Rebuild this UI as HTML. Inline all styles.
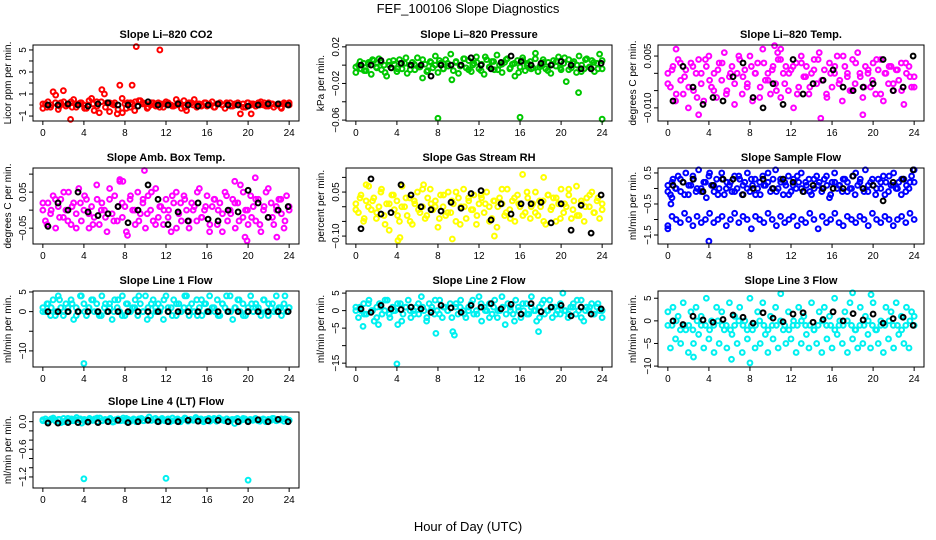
<!DOCTYPE html>
<html><head><meta charset="utf-8">
<style>
html,body{margin:0;padding:0;background:#fff;}
svg{display:block;font-family:"Liberation Sans",sans-serif;}
</style></head>
<body>
<svg id="chart" width="936" height="540" viewBox="0 0 936 540" xmlns="http://www.w3.org/2000/svg">
<rect width="936" height="540" fill="#fff"/>
<text x="468" y="13" text-anchor="middle" font-size="13">FEF_100106  Slope Diagnostics</text>
<text x="468" y="531" text-anchor="middle" font-size="13">Hour of Day (UTC)</text>
</svg>
<script>
// ---- data arrays ----
const xTicks = [0,4,8,12,16,20,24];

const co2Vals = [-0.3,0.1,0.3,-0.2,1.2,0.9,-0.4,0.2,1.3,-0.1,0.1,0.3,0.5,-0.2,0.1,0.2,0.0,-0.3,0.4,0.6,-0.5,0.3,-0.7,1.4,1.0,0.2,-0.6,0.1,0.2,-0.8,1.8,-0.7,0.1,0.2,-0.2,0.1,0.3,-0.1,0.4,0.2,0.1,-0.2,0.0,0.2,-0.1,0.2,0.1,-0.2,0.3,0.1,0.0,-0.1,0.5,0.2,-0.3,0.4,-0.5,0.1,0.2,0.5,-0.2,0.1,0.0,0.2,-0.1,0.1,0.3,-0.2,0.1,0.2,0.0,-0.3,0.1,0.2,-0.1,0.0,0.2,-0.8,0.1,-0.2,0.2,0.0,0.1,-0.1,0.2,0.3,0.0,-0.1,0.2,0.1,-0.2,0.0,0.1,-0.3,0.2,0.1,0.0];
const co2Vals2 = [0.1,-0.2,0.0,0.2,-0.1,0.3,0.0,-0.2,0.1,0.2,-0.3,0.0,0.1,-0.1,0.3,-0.2,0.2,0.0,-0.4,0.6,-0.3,0.2,-0.5,0.4,0.1,-0.3,0.2,0.0,-0.2,0.1,0.2,-0.1,0.0,0.1,-0.2,0.2,0.0,0.1,-0.1,0.2,0.0,-0.2,0.1,0.0,0.2,-0.1,0.1,0.0,-0.2,0.2,0.1,-0.1,0.0,0.2,-0.1,0.1,0.0,-0.2,0.1,0.2];
const co2OutHours = [2.7,9.1,11.4,8.7,20.3];
const co2OutVals = [-1.3,5.3,5.0,1.8,-0.8];
const co2Black = [0.0,0.0,0.1,0.0,-0.1,0.1,0.2,0.0,0.0,-0.1,0.3,0.0,0.0,0.1,0.0,-0.1,0.0,0.1,0.0,0.0,-0.1,0.0,0.1,0.1,0.0];

const presVals = [-0.008,0.000,-0.004,0.002,-0.006,0.003,-0.010,0.005,-0.002,0.007,-0.005,0.000,-0.012,0.004,-0.003,0.001,-0.007,0.006,-0.004,0.002,-0.009,0.000,0.003,-0.005,0.008,-0.002,-0.014,0.001,-0.006,0.004,-0.003,0.010,-0.008,0.002,-0.004,0.006,-0.001,0.012,-0.006,0.003,-0.009,0.000,0.007,-0.003,0.005,-0.007,0.002,0.009,-0.004,0.001,-0.010,0.006,-0.002,0.004,-0.005,0.011,0.000,-0.008,0.003,0.007,-0.004,0.001,-0.012,0.005,-0.002,0.008,-0.006,0.002,0.004,-0.003,0.013,-0.007,0.000,0.006,-0.004,0.003,-0.009,0.005,-0.001,0.009,-0.005,0.002,-0.018,0.006,-0.003,0.004,-0.008,0.010,0.000,-0.004,0.007,-0.002,0.005,-0.007,0.002,0.012,-0.004];
const presVals2 = [-0.002,0.004,-0.006,0.001,0.006,-0.003,0.003,-0.008,0.000,0.005,-0.004,0.002,0.008,-0.005,0.001,-0.002,0.006,-0.007,0.003,0.000,0.005,-0.004,0.002,-0.016,0.004,-0.001,0.007,-0.005,0.000,0.003,-0.006,0.009,-0.002,0.004,-0.005,0.001,0.006,-0.003,0.002,-0.008,0.005,0.000,-0.004,0.007,-0.002,0.003,-0.006,0.001,0.004,-0.003,0.008,-0.005,0.002,0.000,-0.007,0.006,-0.002,0.003,-0.004,0.005];
const presOutHours = [8.0,16.0,24.0,21.7];
const presOutVals = [-0.058,-0.057,-0.059,-0.030];
const presBlack = [0.000,0.000,0.005,-0.003,0.002,0.000,0.000,-0.012,0.000,0.000,0.000,0.008,0.000,-0.004,0.003,0.010,0.004,0.000,0.002,0.000,0.004,0.000,-0.004,-0.004,0.002];

const tempVals = [0.000,-0.004,0.002,-0.008,0.004,-0.002,-0.006,0.001,-0.010,0.003,-0.005,0.000,0.004,-0.003,-0.008,0.002,0.005,-0.004,0.000,-0.007,0.003,-0.002,0.006,-0.005,-0.001,0.002,-0.009,0.000,0.004,-0.006,0.001,-0.003,0.005,-0.008,0.000,0.003,-0.004,0.007,-0.002,0.000,-0.006,0.002,-0.003,0.004,-0.007,0.000,0.002,-0.005,0.001,-0.010,0.003,-0.004,0.005,-0.001,0.002,-0.006,0.000,0.004,-0.003,0.006,-0.002,0.001,-0.007,0.003,-0.004,0.000,0.005,-0.002,-0.008,0.002,0.000,-0.005,0.004,-0.003,0.006,-0.001,-0.007,0.002,0.000,-0.004,0.003,-0.006,0.001,0.004,-0.008,0.000,-0.003,0.002,-0.005,0.001,-0.002,0.003,-0.009,0.000,0.002,-0.004,-0.001];
const tempVals2 = [-0.003,0.001,-0.006,0.003,-0.001,-0.004,0.002,-0.007,0.000,0.004,-0.002,-0.005,0.001,0.003,-0.006,0.000,-0.003,0.005,-0.001,-0.004,0.002,0.000,-0.007,0.003,-0.002,0.001,-0.005,0.004,-0.003,0.000,0.002,-0.006,0.003,-0.001,-0.004,0.001,0.004,-0.002,-0.006,0.000,0.002,-0.003,0.005,-0.001,-0.005,0.003,0.000,-0.004,0.001,-0.002,0.004,-0.006,0.000,0.002,-0.003,0.001,-0.005,0.003,-0.001,-0.004];
const tempOutHours = [0.8,10.4,10.7,11.0,14.9,19.0,3.0];
const tempOutVals = [0.007,0.008,0.006,0.007,-0.013,-0.012,-0.012];
const tempBlack = [-0.008,0.002,-0.004,-0.009,-0.007,-0.008,-0.001,0.003,-0.007,-0.010,-0.003,-0.009,0.004,-0.006,-0.003,-0.002,0.001,-0.004,-0.005,-0.004,-0.003,0.004,-0.005,-0.004,0.005];

const ambVals = [0.000,-0.030,0.020,-0.010,0.040,-0.050,0.010,0.030,-0.020,0.000,0.050,-0.040,0.020,-0.010,0.060,-0.030,0.000,0.030,-0.050,0.010,-0.020,0.070,-0.040,0.020,0.000,-0.060,0.030,-0.010,0.040,-0.030,0.080,-0.020,0.010,-0.070,0.030,0.000,-0.040,0.050,-0.010,0.020,-0.050,0.040,0.000,-0.030,0.060,-0.020,0.010,-0.040,0.030,0.000,-0.060,0.020,0.050,-0.010,-0.030,0.040,0.000,-0.050,0.020,0.010,-0.030,0.060,-0.020,0.000,0.040,-0.060,0.010,0.030,-0.040,0.020,-0.010,0.050,-0.030,0.000,0.030,-0.050,0.020,0.070,-0.020,0.000,-0.040,0.040,0.010,-0.030,0.030,-0.060,0.000,0.050,-0.020,0.020,-0.040,0.010,0.030,-0.010,-0.050,0.040,0.000];
const ambVals2 = [0.020,-0.040,0.000,0.030,-0.020,0.050,-0.030,0.010,-0.050,0.020,0.040,-0.010,-0.040,0.030,0.000,-0.020,0.060,-0.030,0.010,0.020,-0.060,0.040,0.000,-0.030,0.030,-0.010,0.050,-0.040,0.010,0.000,-0.020,0.040,-0.050,0.020,0.030,-0.030,0.000,0.050,-0.020,0.010,-0.040,0.030,0.000,-0.060,0.040,-0.010,0.020,-0.030,0.050,0.000,-0.020,0.030,-0.040,0.010,0.060,-0.020,0.000,0.030,-0.030,0.010];
const ambOutHours = [9.9,7.5,18.7,20.7,19.7,19.9,7.8,22.8];
const ambOutVals = [0.110,0.085,0.080,0.090,-0.075,-0.085,0.080,-0.075];
const ambBlack = [-0.045,0.020,0.000,0.050,-0.005,-0.015,-0.010,0.010,-0.035,0.000,0.070,0.030,-0.040,-0.005,-0.030,0.020,-0.025,-0.030,0.000,-0.005,0.055,0.020,-0.020,0.000,0.010];

const rhVals = [0.010,-0.020,0.040,-0.050,0.020,0.070,-0.010,0.030,-0.040,0.000,0.060,-0.030,0.010,-0.080,0.040,-0.010,0.020,-0.050,0.070,0.000,-0.030,0.030,-0.060,0.010,0.050,-0.020,0.000,-0.040,0.030,0.060,-0.010,0.020,-0.070,0.040,0.000,-0.030,0.050,-0.020,0.010,-0.050,0.030,0.000,0.060,-0.040,0.020,-0.010,0.040,-0.060,0.010,0.030,-0.020,0.050,0.000,-0.040,0.020,-0.070,0.030,0.010,-0.030,0.060,-0.010,0.020,-0.050,0.040,0.000,0.110,-0.020,0.030,-0.040,0.010,0.050,-0.030,0.000,0.020,-0.060,0.040,-0.010,0.030,-0.050,0.010,0.060,-0.020,0.000,0.040,-0.040,0.020,0.070,-0.030,0.010,-0.050,0.030,0.000,0.050,-0.020,0.020,-0.040,0.010];
const rhVals2 = [-0.010,0.030,-0.040,0.000,0.020,-0.020,0.050,-0.060,0.010,0.040,-0.030,0.000,0.030,-0.050,0.020,-0.010,0.060,-0.030,0.010,0.000,-0.040,0.040,-0.020,0.020,0.050,-0.060,0.000,0.030,-0.010,-0.030,0.040,0.010,-0.050,0.020,0.000,0.060,-0.020,-0.040,0.030,0.010,-0.030,0.050,0.000,-0.020,0.020,-0.050,0.040,0.000,0.030,-0.040,0.010,0.060,-0.010,-0.030,0.020,0.000,0.040,-0.020,0.030,-0.010];
const rhOutHours = [4.1,9.4,13.5,4.3,1.0,18.3,6.6];
const rhOutVals = [-0.115,-0.110,-0.100,-0.105,0.075,0.100,0.075];
const rhBlack = [-0.075,0.095,-0.025,-0.020,0.075,0.040,0.000,-0.010,-0.015,0.015,-0.005,0.045,0.055,-0.045,0.010,-0.025,0.010,0.010,0.015,-0.055,0.010,-0.080,0.005,-0.090,0.040];

const sfUpper = [0.1,-0.2,0.3,0.0,0.4,-0.1,0.2,0.5,-0.2,0.1,0.3,-0.1,0.6,0.0,0.2,-0.3,0.4,0.1,-0.1,0.3,0.0,0.5,-0.2,0.2,0.1,-0.1,0.4,0.0,0.3,-0.2,0.2,0.5,-0.1,0.1,0.3,0.0,-0.2,0.4,0.1,0.2,-0.1,0.3,0.6,0.0,0.2,-0.2,0.1,0.4,-0.1,0.3,0.0,0.2,0.5,-0.1,0.1,0.3,-0.2,0.0,0.4,0.2,-0.1,0.3,0.1,-0.3,0.2,0.5,0.0,0.1,-0.1,0.3,0.2,0.0,0.4,-0.2,0.1,0.3,0.0,0.6,-0.1,0.2,0.1,-0.2,0.3,0.0,0.4,0.2,-0.1,0.1,0.5,0.0,0.2,-0.2,0.3,0.1,0.0,0.4,0.2];
const sfUpper2 = [-0.1,0.2,0.0,0.3,-0.2,0.1,0.4,0.0,-0.1,0.2,0.5,0.1,-0.2,0.3,0.0,0.2,-0.1,0.4,0.1,0.0,0.3,-0.2,0.2,0.1,0.5,0.0,-0.1,0.3,0.2,-0.2,0.1,0.4,0.0,0.2,-0.1,0.3,0.1,0.0,0.4,-0.2,0.2,0.1,0.3,-0.1,0.0,0.5,0.2,-0.1,0.1,0.3,0.0,0.2,-0.2,0.4,0.1,0.0,0.3,-0.1,0.2,0.6];
const sfLower = [-1.2,-0.9,-1.0,-1.1,-0.8,-1.0,-1.2,-0.9,-1.1,-1.0,-0.8,-1.1,-1.0,-0.9,-1.2,-1.0,-0.8,-1.1,-0.9,-1.0,-1.3,-0.9,-1.0,-1.1,-0.8,-1.0,-1.2,-0.9,-1.1,-1.0,-0.9,-1.2,-1.0,-1.1,-0.8,-1.0,-1.3,-0.9,-1.1,-1.0,-0.8,-1.1,-1.2,-0.9,-1.0,-1.1,-0.9,-1.0,-1.2,-0.8,-1.0,-1.1,-0.9,-1.0,-1.2,-1.0,-0.9,-1.1,-0.8,-1.0];
const sfOutHours = [4.0,0.0,0.4,0.3];
const sfOutVals = [-1.7,-1.3,-0.3,-0.5];
const sfBlack = [0.1,0.2,0.3,-0.1,0.1,0.3,0.3,-0.2,0.0,0.3,0.0,0.3,0.2,-0.1,0.1,0.0,0.0,0.0,0.4,0.0,0.1,-0.4,0.2,0.3,0.6];

const l1Vals = [1,0,2,-1,3,0,4,1,-1,2,0,3,-2,1,0,4,2,-1,1,3,0,2,-1,4,1,0,2,-2,3,1,0,4,-1,2,0,1,3,-1,2,0,4,1,-1,3,0,2,1,-2,4,0,1,3,-1,2,0,1,4,-1,2,0,3,1,-1,2,0,4,1,0,3,-1,2,1,0,4,-2,1,3,0,2,-1,1,4,0,2,1,-1,3,0,2,1,0,4,1,-1,2,0,1];
const l1Vals2 = [0,2,1,-1,3,0,1,2,-1,4,0,1,3,0,-1,2,1,0,3,-1,2,0,1,4,0,-2,2,1,0,3,1,-1,2,0,4,1,0,-1,3,2,0,1,-1,2,4,0,1,3,-1,0,2,1,0,3,-1,2,0,1,4,1];
const l1OutHours = [4.0];
const l1OutVals = [-13.2];
const l1Black = [0,0,0,0,0,0,0,0,0,0,0,0,0,0,0,0,0,0,0,0,0,0,0,0,0];

const l2Vals = [1,-2,0,2,-1,3,0,-3,1,2,-1,0,3,-2,1,0,-4,2,-1,1,3,-2,0,1,-1,4,0,-3,2,1,-1,0,3,-2,1,0,2,-6,1,-1,3,0,-2,1,2,-1,0,4,-3,1,0,2,-1,3,-2,0,1,-4,2,0,-1,3,1,-2,0,2,-1,4,0,-3,1,2,-1,0,3,-2,1,0,-1,5,0,-2,1,2,-1,0,3,-3,1,0,2,-1,1,0,-2];
const l2Vals2 = [0,1,-1,2,0,-2,1,3,-1,0,2,-3,1,0,-1,2,1,-2,0,3,-1,1,0,-2,2,1,-1,0,3,-1,2,0,-2,1,0,4,-1,1,-3,0,2,-1,1,0,-2,3,0,1,-1,2,0,-1,1,3,-2,0,1,-1,2,0];
const l2OutHours = [4.0,2.2,7.8,9.6,17.8,0.7];
const l2OutVals = [-15.2,-4.0,-6.5,-7.0,-6.0,-4.5];
const l2Black = [0.5,-0.5,1.5,0.5,0.3,1.0,0.5,-0.5,1.5,0.8,-0.5,1.5,1.0,2.0,0.5,1.8,-1.0,2.0,-0.3,1.0,1.5,-1.5,1.0,-1.0,0.5];

const l3Main = [-1,-1,0,-2,-1,-1,-2,0,-1,-1,-2,-1,0,-1,-1,-2,-1,0,-1,-2,-1,-1,0,-1,-2,-1,-1,0,-1,-2,-1,-1,0,-1,-1,-2,-1,0,-1,-1,-2,-1,-1,0,-1,-2,-1,-1,0,-1,-2,-1,-1,0,-1,-1,-2,-1,0,-1];
const l3Scatter = [2,-6,3,-4,1,-5,4,-2,-7,2,-5,3,-3,1,-6,5,-4,0,-7,3,-5,2,-2,-6,4,-3,1,-5,3,-7,0,-4,5,-2,-6,2,-5,4,-3,-7,1,-4,3,-6,6,-2,-5,2,-4,0,-7,3,-5,1,-3,-6,4,-2,-5,2,-7,3,-4,1,-6,5,-3,0,-5,2,-7,4,-4,-2,-6,3,-5,1,-3,-6,4,-2,-5,0,-7,3,-4,2,-6,4,-3,1,-5,3,-6,2,1];
const l3OutHours = [8.0,18.0,19.8,6.2,2.5];
const l3OutVals = [-9.3,6.2,5.8,-8.5,-8.0];
const l3Black = [0.0,-0.8,1.0,0.2,-0.3,0.3,1.3,0.8,-0.5,1.8,0.6,-0.2,1.5,1.8,-0.3,0.3,2.0,0.0,1.6,0.2,1.5,-0.5,0.5,0.8,-1.0];

const l4Vals = [0.02,0.06,0.00,0.04,0.08,0.01,0.05,-0.02,0.07,0.03,0.00,0.06,0.02,0.09,0.04,-0.03,0.05,0.01,0.07,0.03,0.06,0.00,0.08,0.02,0.05,0.03,0.07,-0.01,0.04,0.06,0.02,0.08,0.01,0.05,0.03,0.06,0.00,0.04,0.07,0.02,0.05,0.10,0.03,0.06,0.01,0.04,0.07,0.02,0.05,0.00,0.08,0.03,0.06,0.02,0.04,0.07,0.01,0.05,0.03,0.09,0.02,0.06,0.00,0.04,0.07,0.03,0.05,0.01,0.08,0.04,0.02,0.06,0.03,0.05,-0.04,0.07,0.02,0.04,0.06,0.01,0.05,0.03,0.07,0.02,0.04,0.06,0.00,0.05,0.03,0.07,0.02,0.04,0.06,0.01,0.05,0.03];
const l4Vals2 = [0.04,0.01,0.06,0.03,0.05,0.00,0.07,0.02,0.04,0.06,0.01,0.05,0.03,0.08,0.02,0.04,0.06,0.00,0.05,0.03,0.07,0.01,0.04,0.06,0.02,0.05,0.03,0.07,0.01,0.04,0.06,0.02,0.05,0.00,0.08,0.03,0.04,0.06,0.02,0.05,0.01,0.07,0.03,0.04,0.06,0.02,0.05,0.00,0.07,0.03,0.04,0.06,0.01,0.05,0.03,0.07,0.02,0.04,0.06,0.03];
const l4OutHours = [4.0,12.0,20.0];
const l4OutVals = [-1.24,-1.23,-1.27];
const l4Black = [-0.03,-0.03,-0.02,-0.02,-0.01,-0.02,0.00,0.03,-0.02,0.00,0.03,0.00,0.00,0.00,0.03,0.01,0.02,0.03,0.00,0.00,0.00,0.04,0.00,0.05,0.00];

// ---- rendering ----
const NS = 'http://www.w3.org/2000/svg';
const svg = document.getElementById('chart');
function mk(tag, attrs, parent){
  const e = document.createElementNS(NS, tag);
  for (const k in attrs) e.setAttribute(k, attrs[k]);
  (parent||svg).appendChild(e);
  return e;
}
const colLeft = [33,346,658];
const rowTop = [45,168,291,412];
const W = 266, H = 76;

function panel(key, col, row, title, ylab, yMin, yMax, yTicks, yLabels, color, series, outH, outV, black){
  const L = colLeft[col], T = rowTop[row];
  const g = mk('g', {});
  
  
  const xs = h => L + (h + 0.96) / 25.92 * W;
  const ys = v => T + H - (v - yMin) / (yMax - yMin) * H;
  const t = mk('text', {x: L + W/2, y: T - 7, 'text-anchor':'middle', 'font-size':11, 'font-weight':'bold'}, g);
  t.textContent = title;
  
  
  const yl = mk('text', {x: 0, y: 0, 'text-anchor':'middle', 'font-size':10, transform:`translate(${L-22},${T+H/2}) rotate(-90)`}, g);
  yl.textContent = ylab;
  
  
  const pts = mk('g', {fill:'none', 'stroke-width':2}, g);
  
  
  series.forEach(arr => {
    arr.forEach((v, i) => {
      const h = i * 24 / (arr.length - 1);
      const c = mk('circle', {cx: xs(h), cy: ys(v), r: 2.4, stroke: color}, pts);
      
      
    });
  });
  outH.forEach((h, i) => {
    const c = mk('circle', {cx: xs(h), cy: ys(outV[i]), r: 2.4, stroke: color}, pts);
    
    
  });
  black.forEach((v, i) => {
    const h = 0.5 + i * 23.4 / (black.length - 1);
    const c = mk('circle', {cx: xs(h), cy: ys(v), r: 2.4, stroke: '#000'}, pts);
    
    
  });
  const b = mk('rect', {x: L, y: T, width: W, height: H, fill:'none', stroke:'#000', 'stroke-width':1}, g);
  
  
  xTicks.forEach(h => {
    mk('line', {x1: xs(h), x2: xs(h), y1: T+H, y2: T+H+4, stroke:'#000'}, g);
    const tx = mk('text', {x: xs(h), y: T+H+15, 'text-anchor':'middle', 'font-size':10}, g);
    tx.textContent = h;
    
    
  });
  yTicks.forEach((v, i) => {
    mk('line', {x1: L-4, x2: L, y1: ys(v), y2: ys(v), stroke:'#000'}, g);
    if (yLabels[i] !== '') {
      const ty = mk('text', {x: 0, y: 0, 'text-anchor':'middle', 'font-size':10, transform:`translate(${L-7},${ys(v)}) rotate(-90)`}, g);
      ty.textContent = yLabels[i];
      
      
    }
  });
}

const cyan = '#00f0f0';
panel('co2',0,0,'Slope Li\u2013820 CO2','Licor ppm per min.',-1.45,5.45,[-1,0,1,2,3,4,5],['\u22121','','1','','3','','5'],'#ff0000',[co2Vals,co2Vals2],co2OutHours,co2OutVals,co2Black);
panel('pressure',1,0,'Slope Li\u2013820 Pressure','kPa per min.',-0.061,0.022,[-0.06,-0.04,-0.02,0,0.02],['\u22120.06','','\u22120.02','','0.02'],'#00c800',[presVals,presVals2],presOutHours,presOutVals,presBlack);
panel('temp',2,0,'Slope Li\u2013820 Temp.','degrees C per min.',-0.0138,0.0082,[-0.01,-0.005,0,0.005],['\u22120.010','','','0.005'],'#ff00ff',[tempVals,tempVals2],tempOutHours,tempOutVals,tempBlack);
panel('amb-box-temp',0,1,'Slope Amb. Box Temp.','degrees C per min.',-0.094,0.117,[-0.05,0,0.05,0.1],['\u22120.05','','0.05',''],'#ff00ff',[ambVals,ambVals2],ambOutHours,ambOutVals,ambBlack);
panel('gas-rh',1,1,'Slope Gas Stream RH','percent per min.',-0.127,0.132,[-0.1,-0.05,0,0.05,0.1],['\u22120.10','','','0.05',''],'#ffff00',[rhVals,rhVals2],rhOutHours,rhOutVals,rhBlack);
panel('sample-flow',2,1,'Slope Sample Flow','ml/min per min.',-1.79,0.66,[-1.5,-1,-0.5,0,0.5],['\u22121.5','','\u22120.5','','0.5'],'#0000ff',[sfUpper,sfUpper2,sfLower],sfOutHours,sfOutVals,sfBlack);
panel('line1-flow',0,2,'Slope Line 1 Flow','ml/min per min.',-14.1,5.25,[-10,-5,0,5],['\u221210','','0','5'],cyan,[l1Vals,l1Vals2],l1OutHours,l1OutVals,l1Black);
panel('line2-flow',1,2,'Slope Line 2 Flow','ml/min per min.',-16.1,5.6,[-15,-10,-5,0,5],['\u221215','','\u22125','0','5'],cyan,[l2Vals,l2Vals2],l2OutHours,l2OutVals,l2Black);
panel('line3-flow',2,2,'Slope Line 3 Flow','ml/min per min.',-10.2,6.6,[-10,-5,0,5],['\u221210','\u22125','0','5'],cyan,[l3Main,l3Scatter],l3OutHours,l3OutVals,l3Black);
panel('line4-flow',0,3,'Slope Line 4 (LT) Flow','ml/min per min.',-1.44,0.21,[-1.2,-1.0,-0.8,-0.6,-0.4,-0.2,0.0],['\u22121.2','','','\u22120.6','','','0.0'],cyan,[l4Vals,l4Vals2],l4OutHours,l4OutVals,l4Black);
</script>
</body></html>
